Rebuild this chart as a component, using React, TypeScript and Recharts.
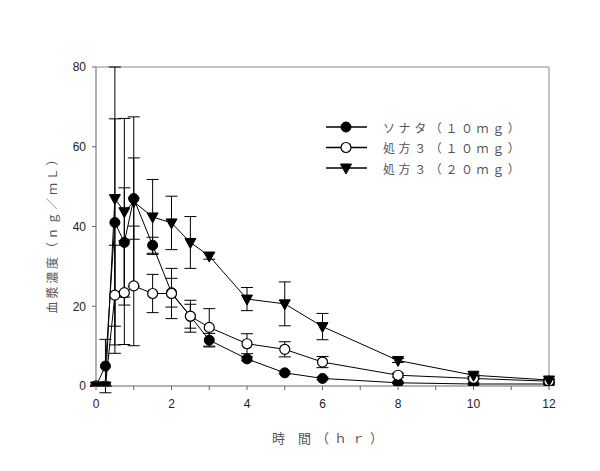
import React from 'react';
import { LineChart, Line, XAxis, YAxis, ErrorBar, Legend, Label, ReferenceLine } from 'recharts';

// 時間 (hr)
const times = [0, 0.25, 0.5, 0.75, 1, 1.5, 2, 2.5, 3, 4, 5, 6, 8, 10, 12];

// 血漿濃度 (ng/mL) と標準偏差
const sonata10 = [0, 5, 41, 36, 47, 35.3, 23.4, 17.5, 11.5, 6.8, 3.3, 1.9, 0.8, 0.5, 0.5];
const sonata10Err = [0, 6.7, 26, 13.7, 10.2, 2, 3.6, 4, 1.7, 0.5, 0.3, 0.3, 0.2, 0.2, 0.2];
const form3_10 = [0, 0, 22.8, 23.4, 25.1, 23.2, 23.2, 17.5, 14.7, 10.6, 9.2, 6, 2.7, 1.9, 1.2];
const form3_10Err = [0, 0, 12.5, 13, 15, 4.8, 6.3, 3, 4.7, 2.5, 1.9, 1.4, 0.5, 0.3, 0.3];
const form3_20 = [0, 0, 47, 43.7, 46.2, 42.4, 40.9, 36, 32.6, 21.8, 20.6, 14.9, 6.4, 2.7, 1.5];
const form3_20Err = [0, 0, 38.8, 23.4, 21.3, 9.4, 6.7, 6.5, 0.8, 2.9, 5.5, 3.3, 0.5, 0.3, 0.3];

const seriesNames = ['ソナタ（１０ｍｇ）', '処方３（１０ｍｇ）', '処方３（２０ｍｇ）'];
const xTicks = [0, 1, 2, 3, 4, 5, 6, 7, 8, 9, 10, 11, 12];
const yTicks = [0, 20, 40, 60, 80];
const Y_MAX = 80;

// error bars are cut off at the top of the frame, as in the figure
const clipErr = (v: number, e: number) => [e, Math.min(e, Y_MAX - v)];

const data = times.map((t, i) => ({
  t,
  s10: sonata10[i],
  s10e: clipErr(sonata10[i], sonata10Err[i]),
  f10: form3_10[i],
  f10e: clipErr(form3_10[i], form3_10Err[i]),
  f20: form3_20[i],
  f20e: clipErr(form3_20[i], form3_20Err[i]),
}));

const CJK = '"Noto Sans CJK JP", sans-serif';
const LATIN = '"Liberation Sans", Arial, sans-serif';

const FilledDot = (props: any) => {
  const { cx, cy, index } = props;
  if (cx == null || cy == null) return null;
  return <circle key={`fd-${index}`} cx={cx} cy={cy} r={5} fill="#000" stroke="#000" />;
};

const OpenDot = (props: any) => {
  const { cx, cy, index } = props;
  if (cx == null || cy == null) return null;
  return <circle key={`od-${index}`} cx={cx} cy={cy} r={5} fill="#fff" stroke="#000" strokeWidth={1.2} />;
};

const TriDot = (props: any) => {
  const { cx, cy, index } = props;
  if (cx == null || cy == null) return null;
  return (
    <path
      key={`td-${index}`}
      d={`M${cx - 5.5},${cy - 4} L${cx + 5.5},${cy - 4} L${cx},${cy + 6} Z`}
      fill="#000"
      stroke="#000"
    />
  );
};

const legendRows = [
  { name: seriesNames[0], Dot: FilledDot },
  { name: seriesNames[1], Dot: OpenDot },
  { name: seriesNames[2], Dot: TriDot },
];

const renderLegend = () => (
  <svg width={230} height={64}>
    {legendRows.map((row, i) => {
      const y = 10 + i * 20.5;
      return (
        <g key={row.name}>
          <line x1={4} y1={y} x2={45} y2={y} stroke="#000" strokeWidth={1.5} />
          <row.Dot cx={24} cy={y} index={i} />
          <text
            x={61}
            y={y}
            dominantBaseline="central"
            fontFamily={CJK}
            fontSize={12}
            letterSpacing={3.6}
            fill="#555"
          >
            {row.name}
          </text>
        </g>
      );
    })}
  </svg>
);

const App = () => {
  return (
    <div style={{ position: 'absolute', left: 0, top: 0 }}>
      <LineChart
        width={600}
        height={471}
        data={data}
        margin={{ top: 67, right: 51, left: 56, bottom: 55 }}
      >
        <XAxis
          dataKey="t"
          type="number"
          domain={[0, 12]}
          ticks={xTicks}
          tickFormatter={(v: number) => (v % 2 === 0 ? String(v) : '')}
          interval={0}
          height={30}
          tickSize={4}
          tickMargin={9}
          stroke="#666"
          tick={{ fill: '#222', fontSize: 12, fontFamily: LATIN }}
        >
          <Label
            content={() => (
              <text
                x={330}
                y={437}
                textAnchor="middle"
                dominantBaseline="central"
                fontFamily={CJK}
                fontSize={13}
                letterSpacing={5}
                fill="#555"
              >
                時 間（ｈｒ）
              </text>
            )}
          />
        </XAxis>
        <YAxis
          type="number"
          domain={[0, Y_MAX]}
          ticks={yTicks}
          allowDataOverflow
          width={40}
          tickSize={4}
          tickMargin={6}
          stroke="#666"
          tick={{ fill: '#222', fontSize: 12, fontFamily: LATIN }}
        >
          <Label
            content={() => (
              <text
                x={51}
                y={232}
                transform="rotate(-90 51 232)"
                textAnchor="middle"
                dominantBaseline="central"
                fontFamily={CJK}
                fontSize={12}
                letterSpacing={2.8}
                fill="#555"
              >
                血漿濃度（ｎｇ／ｍＬ）
              </text>
            )}
          />
        </YAxis>
        <ReferenceLine y={Y_MAX} stroke="#888" strokeWidth={1} />
        <ReferenceLine x={12} stroke="#888" strokeWidth={1} />
        <Legend
          layout="vertical"
          align="center"
          verticalAlign="middle"
          content={renderLegend}
          wrapperStyle={{ position: 'absolute', left: 322, top: 117, width: 230 }}
        />
        <Line
          dataKey="s10"
          name={seriesNames[0]}
          stroke="#000"
          strokeWidth={1}
          dot={FilledDot}
          activeDot={false}
          isAnimationActive={false}
        >
          <ErrorBar dataKey="s10e" direction="y" width={6} stroke="#000" strokeWidth={1} isAnimationActive={false} />
        </Line>
        <Line
          dataKey="f10"
          name={seriesNames[1]}
          stroke="#000"
          strokeWidth={1}
          dot={OpenDot}
          activeDot={false}
          isAnimationActive={false}
        >
          <ErrorBar dataKey="f10e" direction="y" width={6} stroke="#000" strokeWidth={1} isAnimationActive={false} />
        </Line>
        <Line
          dataKey="f20"
          name={seriesNames[2]}
          stroke="#000"
          strokeWidth={1}
          dot={TriDot}
          activeDot={false}
          isAnimationActive={false}
        >
          <ErrorBar dataKey="f20e" direction="y" width={6} stroke="#000" strokeWidth={1} isAnimationActive={false} />
        </Line>
      </LineChart>
    </div>
  );
};

export default App;
